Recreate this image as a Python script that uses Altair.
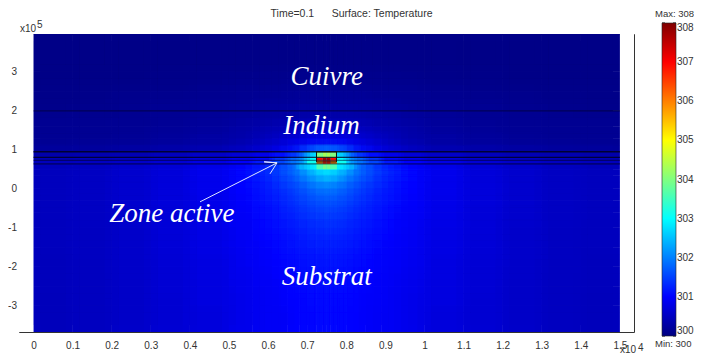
import altair as alt
import pandas as pd

T_MIN = 300
# half-plate column edges (x, units of 1e4); the field is symmetric about x = 0.75
x_edges = [0, .1, .2, .3, .4, .5, .56, .61, .65, .68, .70, .724, .74, .75]
y_edges = [3.97, 3.0, 2.5, 2.0, 1.6, 1.3, 1.1, .96, .8, .72, .64, .5, .35, .2, 0, -.3, -.6, -1, -1.5, -2, -2.5, -3, -3.67]
# temperature above T_MIN, one list per row
r01 = [.06, .06, .07, .07, .08, .08, .09, .09, .09, .09, .09, .09, .09]
r02 = [.08, .08, .09, .10, .11, .12, .13, .13, .14, .14, .14, .14, .14]
r03 = [.10, .11, .12, .14, .16, .18, .20, .21, .22, .22, .22, .22, .22]
r04 = [.14, .15, .16, .18, .22, .27, .31, .34, .37, .39, .40, .40, .40]
r05 = [.16, .17, .19, .22, .27, .34, .42, .50, .57, .61, .64, .65, .66]
r06 = [.18, .19, .21, .25, .31, .40, .52, .68, .82, .93, 1.0, 1.05, 1.05]
r07 = [.20, .21, .23, .27, .34, .45, .60, .80, 1.0, 1.15, 1.25, 1.3, 1.3]
r08 = [.35, .38, .42, .48, .58, .70, .85, 1.1, 1.4, 1.9, 2.6, 4.0, 4.3]
r09 = [.42, .46, .52, .60, .72, .88, 1.05, 1.4, 1.8, 2.2, 3.0, 6.9, 7.7]
r10 = [.48, .52, .58, .68, .82, .98, 1.2, 1.55, 1.9, 2.3, 3.1, 6.0, 6.8]
r11 = [.50, .54, .62, .72, .88, 1.05, 1.3, 1.6, 1.95, 2.4, 2.8, 3.6, 3.9]
r12 = [.50, .54, .62, .72, .88, 1.05, 1.28, 1.55, 1.85, 2.1, 2.4, 2.75, 2.9]
r13 = [.50, .54, .62, .73, .88, 1.04, 1.24, 1.45, 1.7, 1.9, 2.1, 2.3, 2.4]
r14 = [.50, .54, .62, .73, .87, 1.02, 1.2, 1.4, 1.6, 1.8, 1.95, 2.1, 2.15]
r15 = [.50, .54, .62, .73, .86, 1.0, 1.15, 1.3, 1.45, 1.6, 1.7, 1.78, 1.82]
r16 = [.50, .54, .62, .72, .85, .98, 1.1, 1.22, 1.35, 1.45, 1.52, 1.58, 1.6]
r17 = [.50, .54, .61, .71, .83, .96, 1.06, 1.16, 1.25, 1.33, 1.38, 1.42, 1.44]
r18 = [.50, .53, .60, .70, .81, .93, 1.02, 1.1, 1.17, 1.22, 1.26, 1.29, 1.3]
r19 = [.49, .53, .60, .69, .79, .90, .98, 1.04, 1.1, 1.14, 1.17, 1.19, 1.2]
r20 = [.49, .52, .59, .68, .78, .88, .95, 1.0, 1.05, 1.08, 1.1, 1.12, 1.13]
r21 = [.48, .52, .58, .67, .76, .86, .93, .98, 1.02, 1.05, 1.07, 1.08, 1.09]
r22 = [.48, .51, .58, .66, .75, .85, .92, .96, 1.0, 1.03, 1.05, 1.06, 1.07]
rows = [r01, r02, r03, r04, r05, r06, r07, r08, r09, r10, r11, r12, r13, r14, r15, r16, r17, r18, r19, r20, r21, r22]

layer_y = [2.0, .95, .808, .73, .64]
layer_alpha = [.45, .8, .75, .45, .55]
box_x = [.724, .775]
box_y = [.69, .95]
x_ticks = [0, .1, .2, .3, .4, .5, .6, .7, .8, .9, 1, 1.1, 1.2, 1.3, 1.4, 1.5]
y_ticks = [-3, -2, -1, 0, 1, 2, 3]
cbar_ticks = [300, 301, 302, 303, 304, 305, 306, 307, 308]
names = ["Cuivre", "Indium", "Zone active", "Substrat"]
names_x = [.75, .737, .354, .75]
names_y = [2.87, 1.62, -.65, -2.27]
arrow_x = [.426, .623, .590, .623, .605]
arrow_y = [-.333, .667, .692, .667, .385]
title = "Time=0.1\u00a0\u00a0\u00a0\u00a0\u00a0\u00a0Surface: Temperature"

cells = []
for i, row in enumerate(rows):
    for j, v in enumerate(row):
        for a, b in ((x_edges[j], x_edges[j + 1]), (1.5 - x_edges[j + 1], 1.5 - x_edges[j])):
            cells.append(dict(x=a, x2=b, y=y_edges[i], y2=y_edges[i + 1], t=T_MIN + v))
cells = pd.DataFrame(cells)

X = alt.Scale(domain=[-.037, 1.536], nice=False, zero=False)
Y = alt.Scale(domain=[-3.67, 3.97], nice=False, zero=False)
jet = alt.Scale(domain=[300, 301, 303, 305, 307, 308],
                range=["#000080", "#0000ff", "#00ffff", "#ffff00", "#ff0000", "#800000"],
                interpolate="rgb")
FONT = "Liberation Sans"
INK = "#333333"

x_axis = alt.Axis(values=x_ticks, title=None, ticks=False, domain=False, grid=False,
                  format=".1~f", labelFont=FONT, labelFontSize=10, labelColor=INK,
                  labelPadding=8, labelFlush=False, labelOverlap=False, labelBound=False)
plain_x = alt.X("x:Q", scale=X, axis=x_axis)
plain_y = alt.Y("y:Q", scale=Y, axis=None)

heat = alt.Chart(cells).mark_rect(clip=True).encode(
    x=plain_x,
    x2="x2:Q",
    y=alt.Y("y:Q", scale=Y, axis=alt.Axis(values=y_ticks, title=None, ticks=False, domain=False, grid=False,
                                          labelExpr="'' + datum.value", labelFont=FONT, labelFontSize=10,
                                          labelColor=INK, labelPadding=2.5, labelFlush=False, labelOverlap=False,
                                          labelBound=False)),
    y2="y2:Q",
    color=alt.Color("t:Q", scale=jet, legend=alt.Legend(
        type="gradient", orient="none", legendX=643, legendY=-11, title=None, gradientLength=313,
        gradientThickness=14, values=cbar_ticks, labelFont=FONT, labelFontSize=10, labelColor=INK, labelOffset=1,
        gradientStrokeColor="#222222", gradientStrokeWidth=.6, labelOverlap=False)),
)


# the reference field is smooth: averaged, slightly shifted copies of the same table soften the cell edges
def copy(dx, dy, opacity, where=None):
    base = alt.Chart(cells)
    if where:
        base = base.transform_filter(where)
    return base.transform_calculate(c="min(datum.t, 303)").mark_rect(
        clip=True, opacity=opacity, xOffset=dx, x2Offset=dx, yOffset=dy, y2Offset=dy
    ).encode(x=plain_x, x2="x2:Q", y=plain_y, y2="y2:Q", color=alt.Color("c:Q", scale=jet, legend=None))


blur_steps = [-7, 0, 7]
blur = []
k = 2
for dx in blur_steps:
    for dy in blur_steps:
        blur.append(copy(dx, dy, 1 / k))
        k += 1

# the thin layers keep their sharp top and bottom edges: shift these sideways only
BAND = "(datum.y <= .96 && datum.y >= .72) || (datum.y == .64 && datum.x >= .68 && datum.x2 <= .82)"
band = [copy(0, 0, 1, BAND), copy(-3, 0, 1 / 2, BAND), copy(3, 0, 1 / 3, BAND)]

core = alt.Chart(cells).transform_filter(
    "datum.t > 303 && ((datum.y <= .96 && datum.y >= .72) || datum.y == .64)"
).mark_rect(clip=True).encode(x=plain_x, x2="x2:Q", y=plain_y, y2="y2:Q",
                              color=alt.Color("t:Q", scale=jet, legend=None))

strips = alt.Chart(pd.DataFrame({"x": [-.037, 1.5], "x2": [0, 1.536]})).mark_rect(color="white", clip=True).encode(
    x=plain_x, x2="x2:Q")

lines = alt.Chart(pd.DataFrame({"y": layer_y, "a": layer_alpha, "x": [0] * 5, "x2": [1.5] * 5})).mark_rule(
    color="#000014", strokeWidth=1.4
).encode(x=plain_x, x2="x2:Q", y=plain_y, opacity=alt.Opacity("a:Q", scale=None))

box = alt.Chart(pd.DataFrame({"x": [box_x[0]], "x2": [box_x[1]], "y": [box_y[0]], "y2": [box_y[1]]})).mark_rect(
    fill=None, stroke="#111111", strokeWidth=1
).encode(x=plain_x, x2="x2:Q", y=plain_y, y2="y2:Q")

arrow = alt.Chart(pd.DataFrame({"x": arrow_x, "y": arrow_y, "o": range(5)})).mark_line(
    color="#dfe6ff", strokeWidth=1
).encode(x=plain_x, y=plain_y, order="o:Q")

labels = alt.Chart(pd.DataFrame({"x": names_x, "y": names_y, "s": names})).mark_text(
    font="Liberation Serif", fontStyle="italic", fontSize=27, color="white"
).encode(x=plain_x, y=plain_y, text="s:N")

Y_BAR = alt.Scale(domain=[300, 308], range=[302, -11], nice=False, zero=False)
left_ticks = alt.Chart(pd.DataFrame({"t": cbar_ticks})).mark_rule(color="#111111", strokeWidth=1).encode(
    x=alt.value(643), x2=alt.value(646), y=alt.Y("t:Q", scale=Y_BAR, axis=None))
right_ticks = alt.Chart(pd.DataFrame({"t": cbar_ticks})).mark_rule(color="#111111", strokeWidth=1).encode(
    x=alt.value(654), x2=alt.value(657), y=alt.Y("t:Q", scale=Y_BAR, axis=None))


def note(text, px, py, size=10, align="left"):
    return alt.Chart(pd.DataFrame({"s": [text]})).mark_text(
        font=FONT, fontSize=size, color=INK, align=align, baseline="middle"
    ).encode(x=alt.value(px), y=alt.value(py), text="s:N")


notes = [
    note(title, 332.5, -20, 10.5, align="center"),
    note("x10", 1, -5), note("5", 18, -9),
    note("x10", 601, 316), note("4", 619, 314),
    note("Max: 308", 636, -20, 9.5), note("Min: 300", 636, 310, 9.5),
]

chart = alt.layer(heat, *blur, *band, core, strips, lines, box, arrow, labels, left_ticks, right_ticks,
                  *notes).resolve_scale(
    y="independent"
).properties(
    width=615, height=298,
    padding={"left": 11, "top": 26, "right": 60, "bottom": 26},
    autosize=alt.AutoSizeParams(type="none"),
    background="white",
).configure_view(stroke="#333333", strokeWidth=1, fill="white")

chart.save("out.html", embed_options={"renderer": "svg", "actions": False})
